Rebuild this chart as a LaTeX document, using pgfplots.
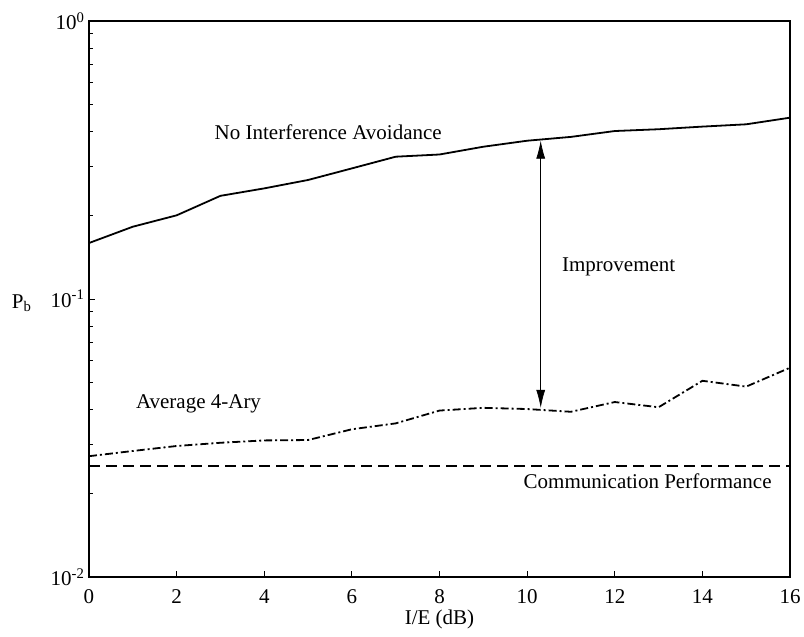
\documentclass[border=0pt]{standalone}
\usepackage{fontspec}
\setmainfont{Liberation Serif}
\usepackage{pgfplots}
\pgfplotsset{compat=1.18}
\usetikzlibrary{arrows.meta}
\newcommand{\bigf}{\fontsize{21}{25}\selectfont}

\begin{document}
\begin{tikzpicture}
\begin{axis}[
 name=ax,
 scale only axis, width=701pt, height=556pt,
 xmin=0, xmax=16, ymin=0.01, ymax=1, ymode=log,
 xtick={0,2,...,16},
 ytick={0.01,0.1,1},
 yticklabels={\raisebox{-9pt}{10\textsuperscript{-2}},10\textsuperscript{-1},10\textsuperscript{0}},
 minor ytick={0.02,0.03,0.04,0.05,0.06,0.07,0.08,0.09,0.2,0.3,0.4,0.5,0.6,0.7,0.8,0.9},
 tick align=inside,
 xtick pos=left, ytick pos=left,
 major tick length=6pt, minor tick length=4pt,
 every tick/.style={line width=0.8pt, black},
 axis line style={line width=1.5pt},
 font=\bigf,
 tick label style={font=\bigf},
 label style={font=\bigf},
 xticklabel style={yshift=-9pt},
 yticklabel style={xshift=-1pt},
 /pgf/number format/assume math mode=true,
 xlabel={I/E (dB)},
 xlabel style={at={(axis description cs:0.5,0)}, anchor=center, yshift=-42pt},
 clip=false,
]
\addplot[black, line width=1.8pt] coordinates {
(0,0.159) (1,0.182) (2,0.200) (3,0.235) (4,0.250) (5,0.268) (6,0.295) (7,0.325)
(8,0.331) (9,0.353) (10,0.371) (11,0.383) (12,0.402) (13,0.408) (14,0.417) (15,0.425) (16,0.449)};
\addplot[black, line width=1.8pt, dash pattern=on 8pt off 3pt on 2pt off 3pt] coordinates {
(0,0.0272) (1,0.0284) (2,0.0296) (3,0.0304) (4,0.0310) (5,0.0311) (6,0.0340) (7,0.0357)
(8,0.0397) (9,0.0406) (10,0.0402) (11,0.0393) (12,0.0426) (13,0.0408) (14,0.0508) (15,0.0484) (16,0.0566)};
\addplot[black, line width=2.2pt, dash pattern=on 11pt off 6pt] coordinates {(0,0.0251) (16,0.0251)};
\draw[{Latex[length=18pt,width=9pt]}-{Latex[length=18pt,width=9pt]}, line width=0.7pt]
  (axis cs:10.31,0.371) -- (axis cs:10.31,0.0406);
\draw[line width=2.5pt] (rel axis cs:0,1) -- (rel axis cs:0,0) -- (rel axis cs:1,0);
\node at (axis cs:5.46,0.399) {No Interference Avoidance};
\node at (axis cs:12.09,0.1306) {Improvement};
\node at (axis cs:2.50,0.0421) {Average 4-Ary};
\node at (axis cs:12.75,0.0222) {Communication Performance};
\node[anchor=base east, xshift=-54pt, yshift=-9pt] at (axis cs:0,0.1) {P\textsubscript{b}};
\end{axis}
\useasboundingbox ([xshift=-89pt,yshift=-59pt]ax.south west) rectangle ([xshift=14pt,yshift=21pt]ax.north east);
\end{tikzpicture}
\end{document}
